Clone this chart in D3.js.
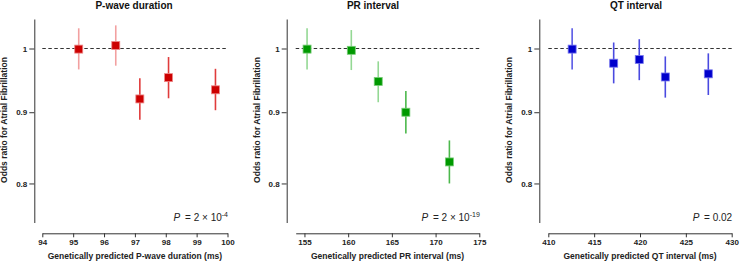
<!DOCTYPE html>
<html><head><meta charset="utf-8">
<script src="https://cdn.jsdelivr.net/npm/d3@7"></script>
<style>
body{margin:0;background:#fff}
svg{display:block}
text{font-family:"Liberation Sans",Arial,Helvetica,sans-serif}
</style>
</head><body>
<svg id="c" width="740" height="262"></svg>
<script>
// ---------- data ----------
const yTicks = [0.8, 0.9, 1];
const yTickLabels = ["0.8", "0.9", "1"];
const yLabel = "Odds ratio for Atrial Fibrillation";

const pwaveTitle = "P-wave duration";
const pwaveXLabel = "Genetically predicted P-wave duration (ms)";
const pwaveTicks = [94, 95, 96, 97, 98, 99, 100];
const pwaveX  = [95.18, 96.38, 97.16, 98.09, 99.61];
const pwaveOR = [0.999, 1.005, 0.920, 0.953, 0.934];
const pwaveLo = [0.966, 0.972, 0.889, 0.921, 0.903];
const pwaveHi = [1.034, 1.039, 0.952, 0.986, 0.967];
const pwaveP = ["2 \u00d7 10", "-4"];

const prTitle = "PR interval";
const prXLabel = "Genetically predicted PR interval (ms)";
const prTicks = [155, 160, 165, 170, 175];
const prX  = [155.3, 160.36, 163.44, 166.6, 171.58];
const prOR = [0.999, 0.997, 0.947, 0.900, 0.829];
const prLo = [0.966, 0.965, 0.915, 0.869, 0.800];
const prHi = [1.034, 1.031, 0.979, 0.932, 0.859];
const prP = ["2 \u00d7 10", "-19"];

const qtTitle = "QT interval";
const qtXLabel = "Genetically predicted QT interval (ms)";
const qtTicks = [410, 415, 420, 425, 430];
const qtX  = [412.6, 417.13, 419.92, 422.76, 427.45];
const qtOR = [0.999, 0.976, 0.982, 0.954, 0.959];
const qtLo = [0.966, 0.944, 0.949, 0.922, 0.926];
const qtHi = [1.034, 1.010, 1.0155, 0.987, 0.992];
const qtP = ["0.02", null];

// ---------- layout / style ----------
const panels = [
  {title: pwaveTitle, xlab: pwaveXLabel, ticks: pwaveTicks, xs: pwaveX, or: pwaveOR, lo: pwaveLo, hi: pwaveHi, p: pwaveP,
   dom: [94, 100], yAxisX: 34.3, x0: 42.3, x1: 227.5, titleX: 134,
   fill: "#cc0000", edge: "#ee8888", bars: ["#f2a0a0", "#f2a0a0", "#e03c3c", "#e03c3c", "#e03c3c"]},
  {title: prTitle, xlab: prXLabel, ticks: prTicks, xs: prX, or: prOR, lo: prLo, hi: prHi, p: prP,
   dom: [154, 175], yAxisX: 286.7, x0: 295.7, x1: 479.3, titleX: 373,
   fill: "#009900", edge: "#77cc77", bars: ["#94d894", "#94d894", "#94d894", "#4cb84c", "#4cb84c"]},
  {title: qtTitle, xlab: qtXLabel, ticks: qtTicks, xs: qtX, or: qtOR, lo: qtLo, hi: qtHi, p: qtP,
   dom: [410, 430], yAxisX: 539.3, x0: 548.3, x1: 731.7, titleX: 636,
   fill: "#0000cc", edge: "#7777ee", bars: ["#5a5ae6", "#4a4ae0", "#4a4ae0", "#4a4ae0", "#4a4ae0"]}
];

const svg = d3.select("#c");
const y = d3.scaleLog().domain([0.75, 1.05]).range([222.5, 19]);
const xAxisY = 233.3;

panels.forEach(p => {
  const g = svg.append("g");
  const x = d3.scaleLinear().domain(p.dom).range([p.x0, p.x1]);

  // y axis
  const ya = g.append("g").attr("transform", `translate(${p.yAxisX},0)`)
    .call(d3.axisLeft(y).tickValues(yTicks).tickFormat((d, i) => yTickLabels[i])
      .tickSize(5).tickSizeOuter(0).tickPadding(2));
  // x axis
  const xa = g.append("g").attr("transform", `translate(0,${xAxisY})`)
    .call(d3.axisBottom(x).tickValues(p.ticks).tickFormat(d3.format("d"))
      .tickSize(4).tickSizeOuter(0).tickPadding(2));
  [ya, xa].forEach(a => {
    a.selectAll("path,line").attr("stroke", "#333").attr("stroke-width", 1);
    a.selectAll("text").attr("fill", "#222").style("font-size", "8px").style("font-weight", "bold")
      .style("font-family", '"Liberation Sans",Arial,sans-serif');
  });

  // reference line at OR = 1
  g.append("line").attr("x1", p.x0).attr("x2", p.x1).attr("y1", y(1)).attr("y2", y(1))
    .attr("stroke", "#333").attr("stroke-width", 1).attr("stroke-dasharray", "3.5,2.5");

  // error bars
  g.selectAll(".eb").data(p.xs).join("line").attr("class", "eb")
    .attr("x1", d => x(d)).attr("x2", d => x(d))
    .attr("y1", (d, i) => y(p.lo[i])).attr("y2", (d, i) => y(p.hi[i]))
    .attr("stroke", (d, i) => p.bars[i]).attr("stroke-width", 1.6);

  // squares
  const s = 8;
  g.selectAll(".pt").data(p.xs).join("rect").attr("class", "pt")
    .attr("x", d => x(d) - s / 2).attr("y", (d, i) => y(p.or[i]) - s / 2)
    .attr("width", s).attr("height", s)
    .attr("fill", p.fill).attr("stroke", p.edge).attr("stroke-width", 0.8);

  // title
  g.append("text").attr("x", p.titleX).attr("y", 8.8).attr("text-anchor", "middle")
    .style("font-size", "10px").style("font-weight", "bold").attr("fill", "#111").text(p.title);

  // x label
  g.append("text").attr("x", (p.x0 + p.x1) / 2).attr("y", 258.5).attr("text-anchor", "middle")
    .style("font-size", "8.5px").style("font-weight", "bold").attr("fill", "#222").text(p.xlab);

  // y label
  g.append("text").attr("transform", `translate(${p.yAxisX - 27},120) rotate(-90)`)
    .attr("text-anchor", "middle").style("font-size", "8.5px").style("font-weight", "bold")
    .attr("fill", "#222").text(yLabel);

  // P value
  const t = g.append("text").attr("x", p.x1 + 0.5).attr("y", 221).attr("text-anchor", "end")
    .style("font-size", "10px").attr("fill", "#222");
  t.append("tspan").style("font-style", "italic").text("P");
  t.append("tspan").text("\u2009 = " + p.p[0]);
  if (p.p[1]) {
    t.append("tspan").attr("dy", -4).style("font-size", "7px").text(p.p[1]);
  }
});
</script>
</body></html>
